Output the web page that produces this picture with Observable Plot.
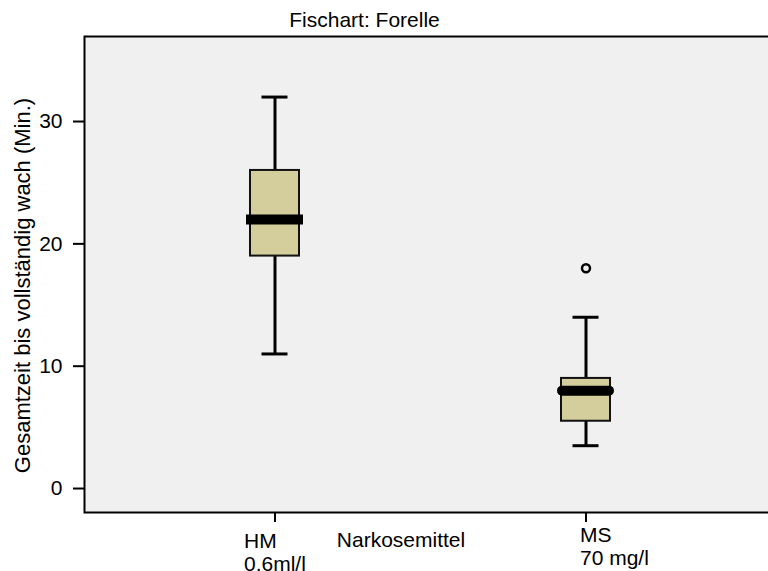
<!DOCTYPE html>
<html><head><meta charset="utf-8">
<script src="https://cdn.jsdelivr.net/npm/d3@7"></script>
<script src="https://cdn.jsdelivr.net/npm/@observablehq/plot@0.6"></script>
<style>html,body{margin:0;padding:0;overflow:hidden;background:#fff;width:768px;height:571px}</style>
</head><body><div id="chart"></div>
<script>
const title = "Fischart: Forelle";
const yLabel = "Gesamtzeit bis vollständig wach (Min.)";
const xLabel = "Narkosemittel";
const categories = ["HM", "MS"];
const categoryLabels = ["HM\n0.6ml/l", "MS\n70 mg/l"];
const whiskerLow = [11, 3.5];
const q1 = [19, 5.5];
const median = [22, 8];
const q3 = [26, 9];
const whiskerHigh = [32, 14];
const outlierCategory = ["MS"];
const outlierValue = [18];
const yTicks = [0, 10, 20, 30];

const boxes = categories.map((c, i) => ({c, label: categoryLabels[i], lo: whiskerLow[i], q1: q1[i], med: median[i], q3: q3[i], hi: whiskerHigh[i]}));
const outliers = outlierCategory.map((c, i) => ({c, v: outlierValue[i]}));

const font = "'Liberation Sans', Arial, Helvetica, sans-serif";
const yDomain = [-1.96, 36.95];

const chart = Plot.plot({
  width: 770, height: 571,
  marginLeft: 84, marginRight: 0, marginTop: 36, marginBottom: 59,
  style: {fontFamily: font, fontSize: "21px", color: "#000", background: "#fff", maxWidth: "none"},
  x: {type: "band", domain: categories, paddingInner: 0.84295, paddingOuter: 0.5209, align: 0.5092},
  y: {domain: yDomain},
  marks: [
    Plot.frame({fill: "#f0f0f0", stroke: "#000", strokeWidth: 2}),
    Plot.axisY({ticks: yTicks, tickSize: 11, tickPadding: 11, label: null, strokeWidth: 2, fontSize: 21}),
    Plot.axisX({tickSize: 10, tickFormat: () => "", label: null, strokeWidth: 2}),
    Plot.ruleX(boxes, {x: "c", y1: "lo", y2: "hi", stroke: "#000", strokeWidth: 3}),
    Plot.tickY(boxes, {x: "c", y: "lo", insetLeft: 11.5, insetRight: 11.5, stroke: "#000", strokeWidth: 3}),
    Plot.tickY(boxes, {x: "c", y: "hi", insetLeft: 11.5, insetRight: 11.5, stroke: "#000", strokeWidth: 3}),
    Plot.barY(boxes, {x: "c", y1: "q1", y2: "q3", fill: "#d3ce9b", stroke: "#111", strokeWidth: 2}),
    Plot.tickY(boxes.filter(d => d.c === "HM"), {x: "c", y: "med", stroke: "#000", strokeWidth: 10, insetLeft: -4, insetRight: -4, strokeLinecap: "butt"}),
    Plot.tickY(boxes.filter(d => d.c === "MS"), {x: "c", y: "med", stroke: "#000", strokeWidth: 10, insetLeft: 1, insetRight: 1, strokeLinecap: "round"}),
    Plot.dot(outliers, {x: "c", y: "v", r: 4, stroke: "#000", strokeWidth: 2.5, fill: "none"}),
    Plot.text([title], {text: d => d, frameAnchor: "top", textAnchor: "middle", dx: -63, dy: -10, lineAnchor: "bottom", fontSize: 21, fill: "#000"}),
    Plot.text([yLabel], {text: d => d, frameAnchor: "left", textAnchor: "middle", rotate: -90, dx: -55, dy: 11, lineAnchor: "bottom", fontSize: 22, fill: "#000"}),
    Plot.text(boxes.filter(d => d.c === "HM"), {x: "c", text: "label", frameAnchor: "bottom", textAnchor: "start", lineAnchor: "top", lineHeight: 1.1, dx: -31, dy: 18.6, fontSize: 21, fill: "#000"}),
    Plot.text(boxes.filter(d => d.c === "MS"), {x: "c", text: "label", frameAnchor: "bottom", textAnchor: "start", lineAnchor: "top", lineHeight: 1.1, dx: -6, dy: 12.6, fontSize: 21, fill: "#000"}),
    Plot.text([xLabel], {text: d => d, frameAnchor: "bottom", textAnchor: "middle", dx: -26.5, dy: 19.6, lineAnchor: "top", lineHeight: 1, fontSize: 21, fill: "#000"})
  ]
});
document.getElementById("chart").appendChild(chart);
</script>
</body></html>
